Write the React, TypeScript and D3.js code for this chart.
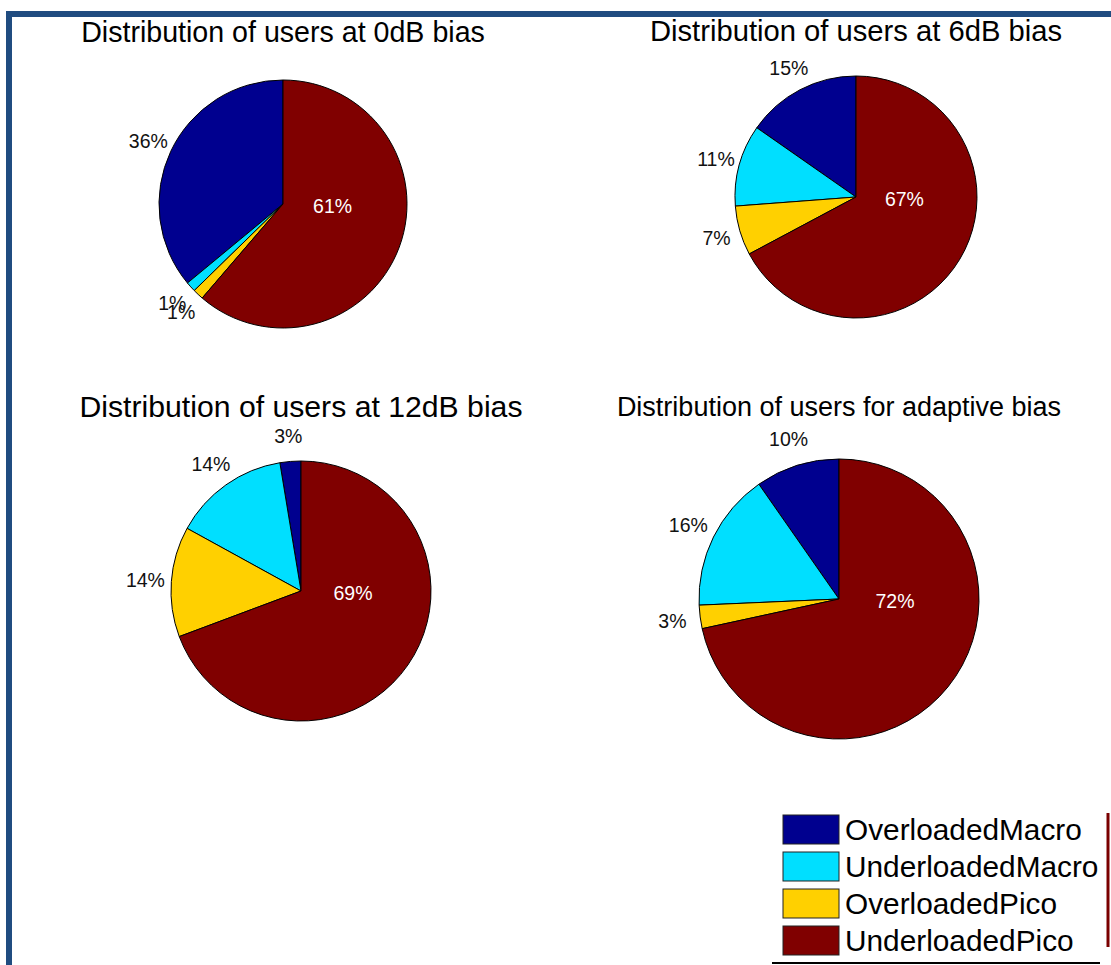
import React, { useEffect, useRef } from 'react';
import * as d3 from 'd3';

// legend order == slice order (counter-clockwise from 12 o'clock, like MATLAB pie)
const categories = ['OverloadedMacro', 'UnderloadedMacro', 'OverloadedPico', 'UnderloadedPico'];
const colors = ['#00008f', '#00dfff', '#ffd000', '#800000'];

const titles = [
  'Distribution of users at 0dB bias',
  'Distribution of users at 6dB bias',
  'Distribution of users at 12dB bias',
  'Distribution of users for adaptive bias',
];

// share of users per category
const bias0 = [0.36, 0.013, 0.014, 0.613];
const bias6 = [0.153, 0.109, 0.066, 0.672];
const bias12 = [0.026, 0.144, 0.137, 0.693];
const biasAdaptive = [0.097, 0.16, 0.027, 0.716];

const W = 1111;
const H = 965;

const panels = [
  { values: bias0, cx: 283, cy: 204, r: 124, titleY: 42, titleSize: 28.6 },
  { values: bias6, cx: 856, cy: 197, r: 121, titleY: 41, titleSize: 29.2 },
  { values: bias12, cx: 301, cy: 591, r: 130, titleY: 417, titleSize: 30.2 },
  { values: biasAdaptive, cx: 839, cy: 599, r: 140, titleY: 416, titleSize: 27 },
];

const App = () => {
  const svgRef = useRef(null);

  useEffect(() => {
    const svg = d3.select(svgRef.current);
    svg.selectAll('*').remove();

    svg.append('rect').attr('width', W).attr('height', H).attr('fill', '#fff');

    // frame (only top and left edges visible)
    svg.append('rect').attr('x', 6).attr('y', 11).attr('width', W).attr('height', 6).attr('fill', '#204c80');
    svg.append('rect').attr('x', 6).attr('y', 11).attr('width', 6).attr('height', H).attr('fill', '#204c80');

    const pie = d3
      .pie<number>()
      .sort(null)
      .value((d) => d)
      .startAngle(0)
      .endAngle(-2 * Math.PI);

    panels.forEach((p, k) => {
      const g = svg.append('g').attr('transform', `translate(${p.cx},${p.cy})`);
      const arcs = pie(p.values);
      const arc = d3.arc<any>().innerRadius(0).outerRadius(p.r);
      const labelArc = d3.arc<any>().innerRadius(p.r * 1.2).outerRadius(p.r * 1.2);
      const biggest = d3.maxIndex(p.values);

      g.selectAll('path.slice')
        .data(arcs)
        .join('path')
        .attr('class', 'slice')
        .attr('d', arc)
        .attr('fill', (d, i) => colors[i])
        .attr('stroke', '#000')
        .attr('stroke-width', 1);

      // small slices labelled outside at 1.2r (MATLAB style), biggest one inside in white
      g.selectAll('text.lbl')
        .data(arcs)
        .join('text')
        .attr('class', 'lbl')
        .attr('x', (d, i) => (i === biggest ? p.r * 0.4 : labelArc.centroid(d)[0]))
        .attr('y', (d, i) => (i === biggest ? 2 : labelArc.centroid(d)[1]))
        .attr('text-anchor', 'middle')
        .attr('dominant-baseline', 'central')
        .attr('font-size', 19.5)
        .attr('fill', (d, i) => (i === biggest ? '#fff' : '#111'))
        .text((d) => `${Math.round(d.data * 100)}%`);

      svg
        .append('text')
        .attr('x', p.cx)
        .attr('y', p.titleY)
        .attr('text-anchor', 'middle')
        .attr('font-size', p.titleSize)
        .attr('fill', '#000')
        .text(titles[k]);
    });

    // legend
    const lg = svg.append('g').attr('transform', 'translate(783,815)');
    const row = lg
      .selectAll('g')
      .data(categories)
      .join('g')
      .attr('transform', (d, i) => `translate(0,${i * 37})`);
    row
      .append('rect')
      .attr('width', 56)
      .attr('height', 29)
      .attr('fill', (d, i) => colors[i])
      .attr('stroke', '#222')
      .attr('stroke-width', 1);
    row
      .append('text')
      .attr('x', 62)
      .attr('y', 25)
      .attr('font-size', 29.8)
      .attr('fill', '#000')
      .text((d) => d);

    svg.append('line').attr('x1', 1108).attr('x2', 1108).attr('y1', 813).attr('y2', 947)
      .attr('stroke', '#7a0000').attr('stroke-width', 3);
    svg.append('line').attr('x1', 772).attr('x2', 1100).attr('y1', 963).attr('y2', 963)
      .attr('stroke', '#000').attr('stroke-width', 2);
  }, []);

  return (
    <svg
      ref={svgRef}
      width={W}
      height={H}
      style={{ position: 'absolute', left: 0, top: 0, fontFamily: '"Liberation Sans", Arial, sans-serif' }}
    />
  );
};

export default App;
